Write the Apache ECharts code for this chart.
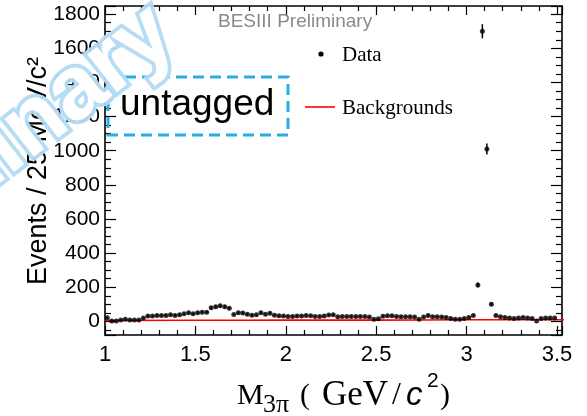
<!DOCTYPE html>
<html>
<head>
<meta charset="utf-8">
<script src="https://cdn.jsdelivr.net/npm/echarts@6/dist/echarts.min.js"></script>
<style>
  html, body { margin: 0; padding: 0; background: #ffffff; }
  #chart { width: 587px; height: 416px; }
</style>
</head>
<body>
<div id="chart"></div>
<script>
// M(3pi) spectrum, untagged sample: 25 MeV/c^2 bins from 1.0 to 3.5 GeV/c^2
const binLow = 1.0;
const binWidth = 0.025;
const dataCounts = [
  21, 2, 2, 8, 13, 8, 8, 8, 19, 31,
  31, 35, 35, 35, 38, 35, 38, 44, 50, 44,
  50, 54, 54, 79, 85, 91, 85, 77, 40, 50,
  49, 41, 36, 38, 50, 41, 48, 36, 33, 32,
  29, 29, 31, 32, 34, 33, 29, 28, 32, 37,
  38, 27, 28, 28, 28, 28, 28, 28, 25, 12,
  15, 30, 33, 33, 28, 27, 27, 27, 25, 12,
  25, 35, 27, 27, 25, 23, 17, 13, 13, 17,
  23, 35, 213, 1700, 1010, 100, 35, 27, 23, 20,
  17, 20, 23, 20, 17, 2, 17, 20, 20, 20
];
// background estimate (red curve)
const bgMass = [1.0, 1.5, 2.0, 2.5, 3.0, 3.55];
const bgLevel = [5, 6, 7, 7, 9, 9];
// axis tick labels
const xMajorTicks = [1, 1.5, 2, 2.5, 3, 3.5];
const yMajorTicks = [0, 200, 400, 600, 800, 1000, 1200, 1400, 1600, 1800];

const xRange = [1.0, 3.528];
const yRange = [-80, 1848];

const massCenters = dataCounts.map((_, i) => +(binLow + (i + 0.5) * binWidth).toFixed(4));
const points = dataCounts.map((c, i) => [massCenters[i], c]);
const bgLine = bgMass.map((m, i) => [m, bgLevel[i]]);

const SANS = '"Liberation Sans", Arial, sans-serif';
const SERIF = '"Liberation Serif", "Times New Roman", serif';
const frameStyle = { color: '#000', width: 1.6 };
const tickLine = { color: '#000', width: 1.2 };

function onMajor(list) {
  return function (v) {
    return list.some(t => Math.abs(t - v) < 1e-6) ? String(v) : '';
  };
}

// x axes: bottom carries labels, top mirrors the ticks
function xAxisDef(position, labels) {
  return {
    type: 'value', min: xRange[0], max: xRange[1], interval: 0.5, position: position,
    axisLine: { show: true, onZero: false, lineStyle: frameStyle },
    axisTick: { show: true, inside: true, length: 9, lineStyle: tickLine },
    minorTick: { show: true, splitNumber: 5, length: 5, lineStyle: tickLine },
    axisLabel: labels ? { show: true, margin: 9, fontFamily: SANS, fontSize: 22, color: '#000',
                          formatter: onMajor(xMajorTicks) } : { show: false },
    splitLine: { show: false }
  };
}
// y axes: left carries labels, right mirrors the ticks
function yAxisDef(position, labels) {
  return {
    type: 'value', min: yRange[0], max: yRange[1], splitNumber: 10, position: position,
    axisLine: { show: true, onZero: false, lineStyle: frameStyle },
    axisTick: { show: true, inside: true, length: 11, lineStyle: tickLine },
    minorTick: { show: true, splitNumber: 4, length: 6, lineStyle: tickLine },
    axisLabel: labels ? { show: true, margin: 5, fontFamily: SANS, fontSize: 21, color: '#000',
                          formatter: onMajor(yMajorTicks) } : { show: false },
    splitLine: { show: false }
  };
}

const chart = echarts.init(document.getElementById('chart'), null, { renderer: 'canvas' });

const option = {
  animation: false,
  backgroundColor: '#ffffff',
  grid: { left: 105, right: 25, top: 6, bottom: 81, containLabel: false },
  xAxis: [xAxisDef('bottom', true), xAxisDef('top', false)],
  yAxis: [yAxisDef('left', true), yAxisDef('right', false)],
  series: [
    {
      name: 'Backgrounds', type: 'line', xAxisIndex: 0, yAxisIndex: 0,
      data: bgLine, symbol: 'none', smooth: true, z: 2,
      lineStyle: { color: '#ff0000', width: 1.6 }
    },
    {
      name: 'errors', type: 'custom', xAxisIndex: 0, yAxisIndex: 0, z: 3,
      data: points,
      renderItem: function (params, api) {
        const x = api.value(0);
        const y = api.value(1);
        const e = Math.sqrt(y);
        const hi = api.coord([x, y + e]);
        const lo = api.coord([x, y - e]);
        return {
          type: 'line',
          shape: { x1: hi[0], y1: hi[1], x2: lo[0], y2: lo[1] },
          style: { stroke: '#000', lineWidth: 1.5 }
        };
      }
    },
    {
      name: 'Data', type: 'scatter', xAxisIndex: 0, yAxisIndex: 0, z: 4,
      data: points, symbol: 'circle', symbolSize: 5,
      itemStyle: { color: '#000' }
    }
  ],
  graphic: [
    // experiment tag
    { type: 'text', x: 218, y: 22, z: 50,
      style: { text: 'BESIII Preliminary', font: '19px ' + SANS, fill: '#8a8a8a',
               align: 'left', verticalAlign: 'middle' } },
    // legend
    { type: 'circle', x: 321, y: 54, z: 50, shape: { r: 2.6 }, style: { fill: '#000' } },
    { type: 'text', x: 342, y: 55, z: 50,
      style: { text: 'Data', font: '21px ' + SERIF, fill: '#000',
               align: 'left', verticalAlign: 'middle' } },
    { type: 'line', z: 50, shape: { x1: 305, y1: 107, x2: 335, y2: 107 },
      style: { stroke: '#ff0000', lineWidth: 1.6 } },
    { type: 'text', x: 342, y: 108, z: 50,
      style: { text: 'Backgrounds', font: '21px ' + SERIF, fill: '#000',
               align: 'left', verticalAlign: 'middle' } },
    // sample label in dashed frame
    { type: 'rect', z: 50, shape: { x: 108, y: 77, width: 180, height: 58 },
      style: { fill: 'none', stroke: '#27aee6', lineWidth: 3, lineDash: [11, 6] } },
    { type: 'text', x: 120, y: 105, z: 50,
      style: { text: 'untagged', font: '37px ' + SANS, fill: '#000',
               align: 'left', verticalAlign: 'middle' } },
    // y axis title
    { type: 'text', x: 39, y: 171, rotation: Math.PI / 2, z: 50,
      style: { text: 'Events / 25 MeV/c\u00b2', font: '27px ' + SANS, fill: '#000',
               align: 'center', verticalAlign: 'middle' } },
    // x axis title: M_{3pi}( GeV/c^2)
    { type: 'text', x: 237, y: 396, z: 50,
      style: { text: 'M', font: '30px ' + SERIF, fill: '#000', align: 'left', verticalAlign: 'middle' } },
    { type: 'text', x: 263, y: 405, z: 50,
      style: { text: '3\u03c0', font: '26px ' + SERIF, fill: '#000', align: 'left', verticalAlign: 'middle' } },
    { type: 'text', x: 300, y: 396, z: 50,
      style: { text: '(', font: '30px ' + SERIF, fill: '#000', align: 'left', verticalAlign: 'middle' } },
    { type: 'text', x: 322, y: 396, z: 50,
      style: { text: 'GeV', font: '35px ' + SERIF, fill: '#000', align: 'left', verticalAlign: 'middle' } },
    { type: 'text', x: 392, y: 396, z: 50,
      style: { text: '/', font: '32px ' + SERIF, fill: '#000', align: 'left', verticalAlign: 'middle' } },
    { type: 'text', x: 406, y: 396, z: 50,
      style: { text: 'c', font: 'italic 33px ' + SANS, fill: '#000', align: 'left', verticalAlign: 'middle' } },
    { type: 'text', x: 427, y: 381, z: 50,
      style: { text: '2', font: '21px ' + SANS, fill: '#000', align: 'left', verticalAlign: 'middle' } },
    { type: 'text', x: 440, y: 396, z: 50,
      style: { text: ')', font: '30px ' + SERIF, fill: '#000', align: 'left', verticalAlign: 'middle' } },
    // watermark
    { type: 'text', x: 164, y: 24, rotation: 0.66, z: 100,
      style: { text: 'Preliminary', font: 'bold 90px ' + SANS, fill: '#ffffff',
               stroke: '#b3dbf4', lineWidth: 8, align: 'right', verticalAlign: 'middle',
               shadowColor: 'rgba(80,170,230,0.85)', shadowBlur: 10, opacity: 0.95 } },
    { type: 'text', x: 164, y: 24, rotation: 0.66, z: 101,
      style: { text: 'Preliminary', font: 'bold 90px ' + SANS, fill: '#ffffff',
               align: 'right', verticalAlign: 'middle' } }
  ]
};

chart.setOption(option);
</script>
</body>
</html>
